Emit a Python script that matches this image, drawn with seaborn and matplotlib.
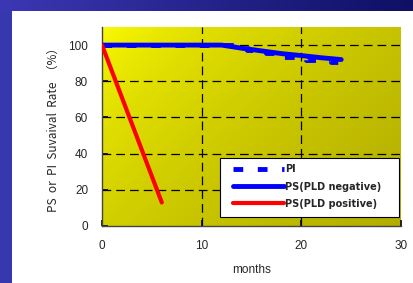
import numpy as np
import pandas as pd
import matplotlib
matplotlib.use("Agg")
import matplotlib.pyplot as plt
import seaborn as sns
from matplotlib.patches import Rectangle

# data
pi_months = [0, 13, 14.5, 16.5, 18.2, 20.5, 23, 24]
pi_rate = [100, 100, 97.5, 95.5, 93.5, 92.0, 90.5, 90.5]

neg_months = [0, 12, 14, 16, 18, 20, 22, 24]
neg_rate = [100, 100, 98.3, 96.8, 95.3, 94.2, 93.0, 92.0]

pos_months = [0, 6]
pos_rate = [100, 13]

x_ticks = [0, 10, 20, 30]
y_ticks = [0, 20, 40, 60, 80, 100]

sns.set_style("white")
plt.rcParams["font.family"] = ["Liberation Sans", "DejaVu Sans"]

fig = plt.figure(figsize=(4.14, 2.83), dpi=100)

# slide frame: blue band on top and left
band = fig.add_axes([0, 1 - 11 / 283, 1, 11 / 283])
grad = np.linspace(0, 1, 256)[None, :, None]
c1 = np.array([60, 55, 180]) / 255
c2 = np.array([15, 15, 100]) / 255
band.imshow(c1 + (c2 - c1) * grad, aspect="auto", extent=[0, 1, 0, 1])
band.axis("off")
side = fig.add_axes([0, 0, 12 / 414, 1 - 11 / 283])
side.set_facecolor((55 / 255, 55 / 255, 175 / 255))
side.set_xticks([])
side.set_yticks([])
for s in side.spines.values():
    s.set_visible(False)

ax = fig.add_axes([102 / 414, 1 - 226 / 283, (401 - 102) / 414, (226 - 27) / 283])

# yellow gradient background
n = 200
gx, gy = np.meshgrid(np.linspace(0, 1, n), np.linspace(1, 0, n))
t = np.clip(0.6 * gx + 0.4 * (1 - gy), 0, 1) ** 0.6
top = np.array([255, 255, 0]) / 255
bot = np.array([178, 173, 0]) / 255
img = top[None, None, :] + (bot - top)[None, None, :] * t[:, :, None]
ax.imshow(img, aspect="auto", extent=[0, 1, 0, 1], transform=ax.transAxes, zorder=0)

df_pi = pd.DataFrame({"months": pi_months, "rate": pi_rate})
df_neg = pd.DataFrame({"months": neg_months, "rate": neg_rate})
df_pos = pd.DataFrame({"months": pos_months, "rate": pos_rate})

sns.lineplot(data=df_pi, x="months", y="rate", ax=ax, color="#0000ff", lw=3.5,
             drawstyle="steps-post", linestyle=(0, (2, 3)), label="PI", zorder=3)
sns.lineplot(data=df_neg, x="months", y="rate", ax=ax, color="#0000ff", lw=3.5,
             label="PS(PLD negative)", zorder=4)
sns.lineplot(data=df_pos, x="months", y="rate", ax=ax, color="#ff0000", lw=3,
             label="PS(PLD positive)", zorder=4)

ax.set_xlim(0, 30)
ax.set_ylim(0, 110)
ax.set_xticks(x_ticks)
ax.set_yticks(y_ticks)
ax.tick_params(labelsize=8.5, direction="in", length=4, width=1.2, left=True,
               bottom=True, pad=10, color="black")

for y in y_ticks[1:]:
    ax.axhline(y, color="black", lw=0.9, ls=(0, (7, 4)), zorder=2)
for x in [10, 20]:
    ax.axvline(x, color="black", lw=0.9, ls=(0, (7, 4)), zorder=2)

for s in ["top", "right"]:
    ax.spines[s].set_visible(False)
for s in ["left", "bottom"]:
    ax.spines[s].set_color("#444444")
    ax.spines[s].set_linewidth(1.0)

ax.set_xlabel("months", fontsize=8.5, labelpad=9)
ax.set_ylabel("PS  or  PI  Suvaival  Rate  （%）", fontsize=8.5, labelpad=6,
              family=["Noto Sans CJK SC", "DejaVu Sans"])

# legend box drawn separately so it can be wider than the entries
box = Rectangle((0.395, 0.045), 0.598, 0.297, transform=ax.transAxes,
                facecolor="white", edgecolor="black", lw=0.8, zorder=9)
ax.add_patch(box)
leg = ax.legend(loc="upper left", bbox_to_anchor=(0.438, 0.31), frameon=False,
                prop={"family": "DejaVu Sans", "weight": "bold", "size": 7},
                handlelength=5.3, borderpad=0, labelspacing=0.75,
                handletextpad=0.05, borderaxespad=0)
leg.set_zorder(10)

fig.savefig("out.png", dpi=100, facecolor="white")
